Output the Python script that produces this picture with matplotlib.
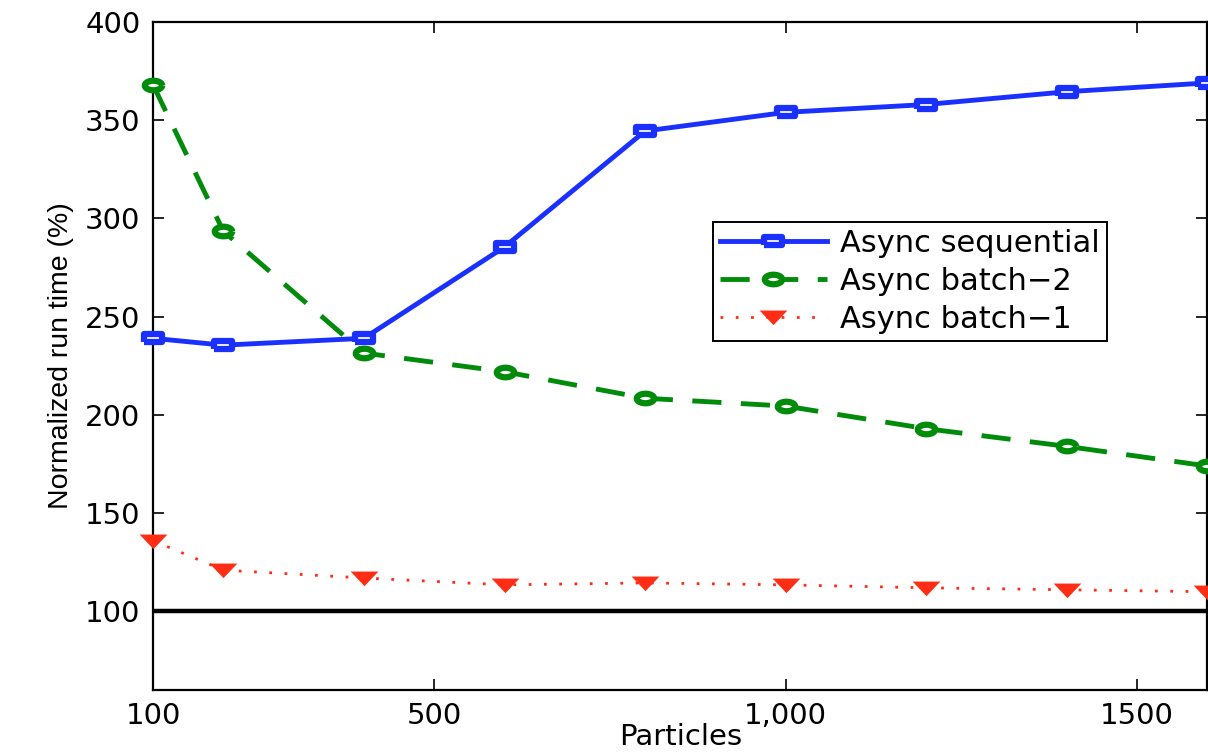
import numpy as np
import matplotlib
matplotlib.use("Agg")
from matplotlib import pyplot as plt

# particle counts and normalized run times (%)
particles = [100, 200, 400, 600, 800, 1000, 1200, 1400, 1600]
async_sequential = [239, 235.5, 239, 285.5, 344.5, 354, 358, 364.5, 369]
async_batch_2 = [368, 293.5, 231.5, 222, 208.5, 204.5, 193, 184, 174]
async_batch_1 = [136, 121, 117, 113.5, 114.5, 113.5, 112, 111, 110]
baseline = [100, 100]

x_ticks = [100, 500, 1000, 1500]
x_tick_labels = ["100", "500", "1,000", "1500"]
y_ticks = [100, 150, 200, 250, 300, 350, 400]

# wide, flat marker shapes
rect_marker = [(-1, -0.5), (1, -0.5), (1, 0.5), (-1, 0.5), (-1, -0.5)]
t = np.linspace(0, 2 * np.pi, 40)
ellipse_marker = list(zip(np.cos(t), 0.55 * np.sin(t)))
tri_marker = [(-1, 0.5), (1, 0.5), (0, -0.55), (-1, 0.5)]

plt.rcParams["font.family"] = ["DejaVu Sans"]

fig = plt.figure(figsize=(12.08, 7.53), dpi=100)
ax = fig.add_axes([0.1267, 0.0837, 0.8728, 0.8871])

ax.plot([particles[0], particles[-1]], baseline, color="black", lw=3.2,
        solid_capstyle="butt", zorder=2)

ax.plot(particles, async_sequential, color="#1a30ff", lw=3.5, marker=rect_marker,
        markersize=12.5, markeredgewidth=4.5, markerfacecolor="white",
        markeredgecolor="#1a30ff", label="Async sequential", clip_on=False, zorder=4)

ax.plot(particles, async_batch_2, color="#008c0a", lw=3.5, dashes=(6, 4),
        marker=ellipse_marker, markersize=12.5, markeredgewidth=4.5,
        markerfacecolor="white", markeredgecolor="#008c0a",
        label="Async batch\u22122", clip_on=False, zorder=3)

ax.plot(particles, async_batch_1, color="#ff2d14", lw=2.0, dashes=(1.0, 4.5),
        marker=tri_marker, markersize=20, markeredgewidth=0,
        markerfacecolor="#ff2d14", label="Async batch\u22121", clip_on=False, zorder=3)

ax.set_xlim(100, 1600)
ax.set_ylim(60, 400)
ax.set_xticks(x_ticks)
ax.set_xticklabels(x_tick_labels)
ax.set_yticks(y_ticks)
ax.tick_params(direction="in", length=8, width=1.2, labelsize=21,
               top=True, right=True, pad=9)
for sp in ax.spines.values():
    sp.set_linewidth(1.6)

ax.set_xlabel("Particles", fontsize=21, labelpad=0, va="bottom")
ax.xaxis.set_label_coords(0.5, -0.0915)
ax.set_ylabel("Normalized run time (%)", fontsize=20.5,
              family=["Liberation Sans"], labelpad=8)

leg = ax.legend(loc="upper left", bbox_to_anchor=(0.531, 0.7006), fontsize=22,
                numpoints=1, handlelength=3.5, handletextpad=0.45,
                borderpad=0.22, labelspacing=0.3, borderaxespad=0,
                fancybox=False, framealpha=1, edgecolor="black")
leg.get_frame().set_linewidth(1.4)

fig.savefig("out.png", dpi=100)
